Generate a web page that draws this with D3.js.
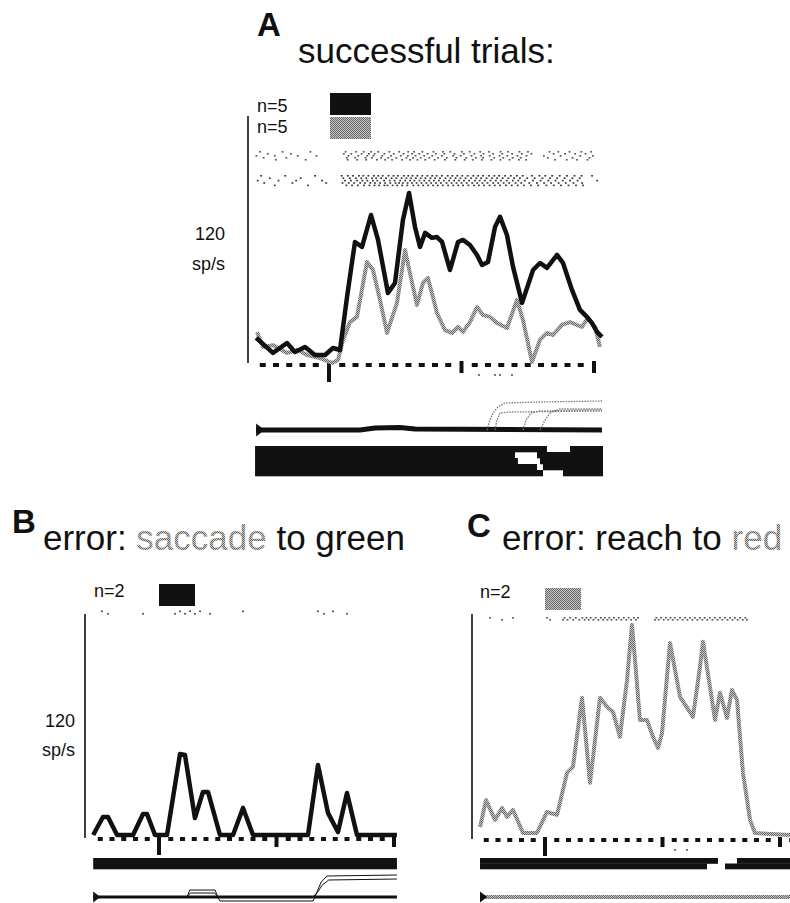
<!DOCTYPE html>
<html>
<head>
<meta charset="utf-8">
<title>Firing rate during successful and error trials</title>
<script src="https://d3js.org/d3.v7.min.js"></script>
<style>
  html, body { margin: 0; padding: 0; background: #fff; }
  svg { display: block; }
  text { font-family: "Liberation Sans", Arial, Helvetica, sans-serif; }
</style>
</head>
<body>
<script>
// Spike-density histograms (sp/s) aligned on the 0 ms event, with spike rasters
// above, event markers on the time line, task-epoch bars and eye/hand traces below.

// ---------- rate time courses: time (ms) and rate (sp/s) ----------
const timeA_black = [-550,-506,-423,-317,-257,-181,-106,-30,30,83,136,196,249,317,370,445,498,558,604,649,687,725,777,815,853,913,974,1011,1064,1117,1155,1200,1253,1291,1343,1389,1457,1540,1592,1645,1721,1766,1834,1894,1947,1985,2023,2060];
const rateA_black = [12.2,9.7,4.9,9.7,5.3,7.8,3.9,3.9,7.3,6.3,32.1,58.8,56.4,71.9,59.8,34.0,38.9,69.5,82.6,66.1,56.4,63.2,60.8,61.2,58.8,45.2,58.8,59.8,57.3,52.5,47.6,49.1,66.1,71.0,62.2,46.7,29.2,45.2,48.6,46.2,52.5,48.6,35.5,25.8,22.4,19.4,15.1,12.6];

const timeA_grey = [-543,-498,-423,-317,-234,-166,-68,23,68,106,158,211,287,332,385,438,513,574,611,664,709,747,815,875,928,974,1011,1064,1117,1162,1215,1268,1343,1419,1464,1532,1592,1645,1691,1758,1819,1909,1955,2008,2045];
const rateA_grey = [15.1,7.8,8.7,4.9,6.3,3.9,2.4,0,1.5,11.2,19.9,22.4,49.1,45.2,30.6,14.6,29.2,54.9,43.7,28.2,38.9,41.3,24.3,16.0,14.6,17.5,15.1,19.9,27.2,23.3,22.4,19.4,17.0,30.6,20.9,0.5,11.2,14.6,13.6,18.5,19.9,17.5,21.9,17.5,7.8];

const timeB = [-560,-477,-434,-357,-221,-136,-102,-34,68,179,221,306,374,417,519,630,715,800,1268,1353,1438,1523,1600,1685,2025];
const rateB = [0,9.8,9.8,0,0,11.4,11.4,0,0,44.0,43.5,9.2,23.4,23.4,0,0,14.7,0,0,38.0,12.0,1.6,22.8,0,0];

const timeC = [-553,-502,-426,-366,-323,-272,-187,-68,17,102,187,238,315,383,468,528,579,638,698,740,766,808,868,919,962,996,1038,1064,1149,1259,1319,1345,1447,1489,1549,1591,1634,1685,1745,1787,2085];
const rateC = [4.3,19.0,8.2,14.7,9.8,13.6,1.1,1.1,12.5,10.9,33.7,37.0,74.5,28.3,74.5,69.6,66.8,53.3,84.2,114.1,95.1,62.5,62.5,53.3,47.3,55.4,85.9,104.3,75.0,64.1,91.3,104.9,62.5,77.2,63.6,78.8,73.4,33.7,8.2,1.1,0];

// ---------- spike rasters: one array of spike times (ms) per trial ----------
const rasterA_grey = [
  [-520,-350,-140,125,205,262,318,371,455,530,598,642,705,788,860,915,1003,1062,1141,1208,1295,1351,1437,1502,1664,1731,1815,1904,1978],
  [-462,-288,112,168,246,301,344,418,489,563,627,681,744,806,871,947,1018,1097,1166,1239,1308,1382,1455,1527,1695,1782,1858,1936],
  [-548,-409,-236,-95,147,221,289,335,402,468,542,595,653,718,779,852,938,994,1076,1149,1213,1287,1346,1423,1491,1622,1748,1897,1992],
  [-493,-322,133,198,276,324,393,447,508,584,634,692,757,823,889,962,1036,1108,1163,1247,1315,1386,1446,1651,1838,1966],
  [-401,-176,141,213,281,362,424,476,552,611,668,726,797,874,953,1024,1085,1154,1226,1294,1362,1433,1488,1706,1794,1872,1951]
];
const rasterA_black = [
  [-512,-330,-105,96,142,181,226,259,297,338,372,405,449,487,521,566,598,631,667,704,742,779,813,852,896,931,968,1006,1047,1089,1126,1162,1207,1248,1283,1329,1372,1418,1462,1531,1588,1632,1684,1741,1796,1853,1906,1985],
  [-447,-214,108,157,203,244,281,324,356,394,431,472,509,548,584,619,655,692,728,766,801,838,879,917,955,992,1031,1073,1112,1148,1189,1231,1269,1311,1354,1397,1441,1496,1552,1611,1668,1722,1778,1837,1892],
  [-538,-381,-248,-52,121,166,212,252,289,331,365,416,458,495,537,575,612,644,683,719,757,792,829,866,907,944,981,1019,1058,1101,1137,1176,1219,1259,1298,1341,1387,1429,1478,1540,1597,1655,1709,1764,1819,1876,2023],
  [-489,-276,-21,102,149,190,235,271,312,347,386,424,463,502,529,557,593,626,661,698,735,771,808,845,887,925,962,1000,1039,1081,1119,1158,1196,1239,1277,1318,1361,1408,1451,1512,1569,1623,1676,1733,1787,1845,1910],
  [-410,-158,131,174,218,264,305,343,379,418,441,480,515,552,591,637,674,711,749,786,821,859,899,938,975,1012,1052,1094,1131,1170,1212,1251,1290,1335,1379,1424,1470,1524,1579,1641,1696,1751,1808,1864,1917]
];
const rasterB = [
  [-485,179,264,349,715,1353,1481],
  [-434,-136,136,221,306,434,1404,1600]
];
const rasterC = [
  [-468,-272,17,166,214,262,318,353,389,431,476,509,548,587,629,671,712,756,791,948,987,1029,1068,1106,1149,1192,1233,1276,1318,1359,1403,1447,1489,1531,1574,1617,1661,1705],
  [-366,43,153,192,240,291,337,372,412,455,494,531,566,608,650,692,733,774,936,968,1010,1049,1087,1128,1171,1212,1254,1297,1339,1381,1425,1468,1510,1553,1596,1639,1683,1719]
];

// ---------- events and task epochs ----------
const eventTimes = [0, 1000, 2000];          // tall tick at 0, short ticks after
const markerA = [1132, 1253, 1291, 1381];
const markerC = [1106, 1208];
// epoch bars: per trial row, list of [start, end] in ms
const epochsA = [
  [[-558, 1645], [1819, 2068]],
  [[-558, 1404], [1570, 2068]],
  [[-558, 1426], [1592, 2068]],
  [[-558, 1570], [1615, 2068]],
  [[-558, 1615], [1766, 2068]]
];
const epochsB = [[[-560, 2025]]];
const epochsC = [
  [[-553, 1472], [1634, 2100]],
  [[-553, 1379], [1532, 2100]]
];

// ---------- eye and hand position traces (time ms, position deg) ----------
const eyeA = { t: [-550, 234, 347, 536, 649, 2060], p: [0, 0, 2, 2.5, 1, 0] };
const handA = [
  { t: [1192, 1215, 1238, 1275, 1328, 1592, 2060], p: [0, 10, 17, 23, 27, 28, 29] },
  { t: [1253, 1268, 1291, 1366, 2060], p: [0, 10, 17, 18, 19] },
  { t: [1464, 1487, 1525, 1592, 2060], p: [0, 10, 17, 19, 20] },
  { t: [1592, 1630, 1675, 1743, 2060], p: [0, 10, 18, 21, 21] }
];
const eyeB = { t: [-560, 2025], p: [0, 0] };
const handB = [
  { t: [-560, 238, 262, 477, 500, 519, 1311, 1345, 1380, 1430, 2025], p: [0, 0, 7, 7, 0, -4, -4, 5, 15, 21, 22] },
  { t: [-560, 238, 266, 474, 502, 1311, 1350, 1390, 1445, 2025], p: [0, 0, 4, 4, 0, 0, 5, 12, 17, 18] }
];
const eyeC = { t: [-553, 2100], p: [0, 0] };

// ---------- labels ----------
const scaleValue = 120;
const scaleUnit = "sp/s";
const legendA = ["n=5", "n=5"];
const legendB = ["n=2"];
const legendC = ["n=2"];

// ---------- drawing ----------
const BLACK = "#111";
const GREY = "url(#dither)";

const svg = d3.select("body").append("svg")
  .attr("width", 790).attr("height", 903);

// stippled grey used for the second condition
const pat = svg.append("defs").append("pattern")
  .attr("id", "dither").attr("width", 2).attr("height", 2)
  .attr("patternUnits", "userSpaceOnUse");
pat.append("rect").attr("width", 2).attr("height", 2).attr("fill", "#c8c8c8");
pat.append("rect").attr("width", 1).attr("height", 1).attr("fill", "#666");
pat.append("rect").attr("x", 1).attr("y", 1).attr("width", 1).attr("height", 1).attr("fill", "#666");

function drawPanel(p) {
  const g = svg.append("g");
  const x = d3.scaleLinear().domain([0, 2000]).range(p.xRange);
  const y = d3.scaleLinear().domain([0, scaleValue]).range(p.yRange);
  const ey = d3.scaleLinear().domain([0, 30]).range(p.eyeRange);

  // panel letter and heading
  g.append("text").attr("x", p.letter.x).attr("y", p.letter.y)
    .attr("font-size", 33).attr("font-weight", 700).attr("fill", BLACK)
    .text(p.letter.text);
  const head = g.append("text").attr("x", p.title.x).attr("y", p.title.y)
    .attr("font-size", 35).attr("fill", BLACK);
  p.title.parts.forEach(([s, fill]) => head.append("tspan").attr("fill", fill).text(s));

  // legend: trial counts with condition swatches
  p.legend.forEach((l, i) => {
    g.append("text").attr("x", l.tx).attr("y", l.ty)
      .attr("font-size", 18).attr("fill", BLACK).text(p.legendText[i]);
    g.append("rect").attr("x", l.rect[0]).attr("y", l.rect[1])
      .attr("width", l.rect[2]).attr("height", l.rect[3]).attr("fill", l.fill);
  });

  // vertical scale bar
  g.append("line")
    .attr("x1", p.axisX).attr("x2", p.axisX)
    .attr("y1", y(0) + p.barExtra).attr("y2", y(scaleValue))
    .attr("stroke", BLACK).attr("stroke-width", 1.6);
  if (p.scaleLabel) {
    g.append("text").attr("x", p.scaleLabel.x).attr("y", p.scaleLabel.y[0])
      .attr("text-anchor", "end").attr("font-size", 18).attr("fill", BLACK)
      .text(scaleValue);
    g.append("text").attr("x", p.scaleLabel.x).attr("y", p.scaleLabel.y[1])
      .attr("text-anchor", "end").attr("font-size", 18).attr("fill", BLACK)
      .text(scaleUnit);
  }

  // spike rasters
  p.rasters.forEach(r => {
    r.trials.forEach((spikes, i) => {
      g.append("g").selectAll("rect").data(spikes).join("rect")
        .attr("x", d => x(d) - 0.9).attr("y", r.y0 + i * r.dy)
        .attr("width", 1.8).attr("height", 1.6).attr("fill", r.color);
    });
  });

  // time line: 100 ms dashes and event ticks
  const dashTimes = d3.range(p.dash.from, p.dash.to + 1, 100)
    .filter(t => !eventTimes.includes(t));
  g.append("g").selectAll("rect").data(dashTimes).join("rect")
    .attr("x", d => x(d) - p.dash.w / 2).attr("y", p.dash.y - p.dash.h / 2)
    .attr("width", p.dash.w).attr("height", p.dash.h).attr("fill", BLACK);
  g.append("g").selectAll("rect").data(eventTimes).join("rect")
    .attr("x", d => x(d) - 2).attr("y", p.ticks.top)
    .attr("width", 4)
    .attr("height", (d, i) => (i === 0 ? p.ticks.long : p.ticks.short) - p.ticks.top)
    .attr("fill", BLACK);
  g.append("g").selectAll("rect").data(p.markers.times).join("rect")
    .attr("x", d => x(d) - 1).attr("y", p.markers.y)
    .attr("width", 2).attr("height", 2).attr("fill", "#777");

  // rate curves
  const line = d3.line().x(d => x(d[0])).y(d => y(d[1]));
  p.curves.forEach(c => {
    g.append("path").datum(d3.zip(c.t, c.r)).attr("d", line)
      .attr("fill", "none").attr("stroke", c.stroke).attr("stroke-width", c.w)
      .attr("stroke-linejoin", "round");
  });

  // task-epoch bars, one row per trial
  const rowH = (p.bars.y1 - p.bars.y0) / p.bars.rows.length;
  p.bars.rows.forEach((segs, i) => {
    g.append("g").selectAll("rect").data(segs).join("rect")
      .attr("x", d => x(d[0])).attr("y", p.bars.y0 + i * rowH)
      .attr("width", d => x(d[1]) - x(d[0])).attr("height", rowH + 0.3)
      .attr("fill", BLACK);
  });

  // eye and hand traces
  const trace = d3.line().x(d => x(d[0])).y(d => ey(d[1]));
  p.eye.main.forEach(tr => {
    g.append("path").datum(d3.zip(tr.t, tr.p)).attr("d", trace)
      .attr("fill", "none").attr("stroke", p.eye.color).attr("stroke-width", p.eye.w);
  });
  p.eye.hands.forEach(tr => {
    g.append("path").datum(d3.zip(tr.t, tr.p)).attr("d", trace)
      .attr("fill", "none").attr("stroke", p.eye.handColor)
      .attr("stroke-width", p.eye.handW)
      .attr("stroke-dasharray", p.eye.handDash || null);
  });
  const t0 = x(p.eye.main[0].t[0]), y0 = ey(0), s = p.eye.tri;
  g.append("path")
    .attr("d", `M${t0},${y0 - s / 2}L${t0 + s * 0.65},${y0}L${t0},${y0 + s / 2}Z`)
    .attr("fill", BLACK);
}

drawPanel({
  letter: { text: "A", x: 257, y: 36 },
  title: { x: 298, y: 63, parts: [["successful trials:", BLACK]] },
  legendText: legendA,
  legend: [
    { tx: 257, ty: 112, rect: [330, 93, 41, 22], fill: BLACK },
    { tx: 257, ty: 133, rect: [330, 117, 41, 22], fill: GREY }
  ],
  xRange: [329, 594], yRange: [363, 116], eyeRange: [430, 400],
  axisX: 248, barExtra: 0,
  scaleLabel: { x: 225, y: [240, 270] },
  rasters: [
    { trials: rasterA_grey, y0: 151, dy: 2, color: "#555" },
    { trials: rasterA_black, y0: 175, dy: 2.4, color: "#333" }
  ],
  dash: { from: -500, to: 1900, y: 365, w: 6, h: 4 },
  ticks: { top: 361, long: 382, short: 373 },
  markers: { times: markerA, y: 374 },
  curves: [
    { t: timeA_grey, r: rateA_grey, stroke: GREY, w: 4 },
    { t: timeA_black, r: rateA_black, stroke: BLACK, w: 4.5 }
  ],
  bars: { rows: epochsA, y0: 446, y1: 476 },
  eye: { main: [eyeA], color: BLACK, w: 5, hands: handA,
         handColor: "#777", handW: 1.3, handDash: "1.5 1.2", tri: 13 }
});

drawPanel({
  letter: { text: "B", x: 12, y: 533 },
  title: { x: 43, y: 550, parts: [["error: ", BLACK], ["saccade", GREY], [" to green", BLACK]] },
  legendText: legendB,
  legend: [{ tx: 94, ty: 597, rect: [159, 584, 36, 22], fill: BLACK }],
  xRange: [159, 394], yRange: [835, 614], eyeRange: [897, 867],
  axisX: 85, barExtra: 3,
  scaleLabel: { x: 75, y: [727, 756] },
  rasters: [{ trials: rasterB, y0: 610.5, dy: 2.5, color: "#444" }],
  dash: { from: -500, to: 1900, y: 839, w: 5, h: 4 },
  ticks: { top: 836, long: 855, short: 847 },
  markers: { times: [], y: 849 },
  curves: [{ t: timeB, r: rateB, stroke: BLACK, w: 4.5 }],
  bars: { rows: epochsB, y0: 858, y1: 869 },
  eye: { main: [eyeB], color: BLACK, w: 3, hands: handB,
         handColor: BLACK, handW: 1, handDash: null, tri: 11 }
});

drawPanel({
  letter: { text: "C", x: 467, y: 537 },
  title: { x: 502, y: 550, parts: [["error: reach to ", BLACK], ["red", GREY]] },
  legendText: legendC,
  legend: [{ tx: 480, ty: 598, rect: [545, 588, 36, 22], fill: GREY }],
  xRange: [545, 780], yRange: [835, 614], eyeRange: [897, 867],
  axisX: 472, barExtra: 4,
  scaleLabel: null,
  rasters: [{ trials: rasterC, y0: 617, dy: 2, color: "#555" }],
  dash: { from: -500, to: 2100, y: 840, w: 5, h: 4 },
  ticks: { top: 837, long: 856, short: 847 },
  markers: { times: markerC, y: 849 },
  curves: [{ t: timeC, r: rateC, stroke: GREY, w: 4 }],
  bars: { rows: epochsC, y0: 858, y1: 869 },
  eye: { main: [eyeC], color: GREY, w: 4, hands: [],
         handColor: GREY, handW: 1, handDash: null, tri: 11 }
});
</script>
</body>
</html>
